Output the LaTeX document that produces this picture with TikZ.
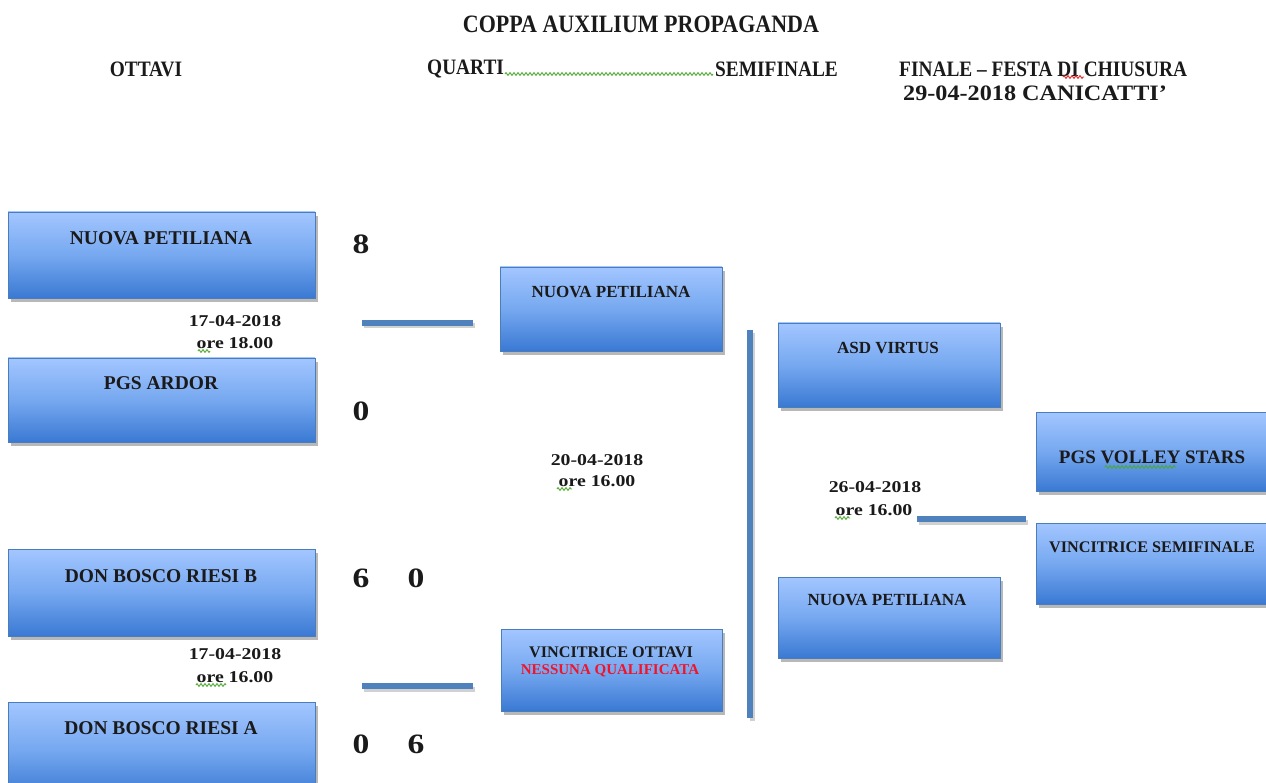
\documentclass[tikz,border=0pt]{standalone}
\usepackage{fontspec}
\setmainfont{Liberation Serif}
\newfontfamily\widefont[FakeStretch=1.2]{Liberation Serif}
\newfontfamily\medfont[FakeStretch=1.1]{Liberation Serif}
\newfontfamily\condfont[FakeStretch=0.88]{Liberation Serif}
\usetikzlibrary{shadows,decorations.pathmorphing}
\definecolor{boxtop}{HTML}{A3C6FF}
\definecolor{boxmid}{HTML}{76A8F0}
\definecolor{boxbot}{HTML}{3A79D3}
\definecolor{boxline}{HTML}{4A7EBB}
\definecolor{barblue}{HTML}{4F81BD}
\definecolor{spellgreen}{HTML}{4CA82E}
\definecolor{spellred}{HTML}{E02020}
\definecolor{txt}{HTML}{1A1A1A}
\definecolor{nored}{HTML}{F0142A}
\begin{document}
\begin{tikzpicture}[x=1pt,y=-1pt,
  teambox/.style={draw=boxline, line width=0.8pt, top color=boxtop, bottom color=boxbot, middle color=boxmid,
    anchor=north west, inner sep=0pt, outer sep=0pt,
    drop shadow={shadow xshift=3pt, shadow yshift=-4pt, fill=black, opacity=0.28}},
  team/.style={font=\fontsize{19.5}{22}\selectfont\bfseries, text=txt, inner sep=0pt},
  teamsm/.style={font=\fontsize{17}{20}\selectfont\bfseries, text=txt, inner sep=0pt},
  teamxs/.style={font=\fontsize{16.2}{19}\selectfont\bfseries, text=txt, inner sep=0pt},
  hdr/.style={font=\condfont\fontsize{22}{24}\selectfont\bfseries, text=txt, inner sep=0pt},
  datelbl/.style={font=\widefont\fontsize{16.5}{19}\selectfont\bfseries, text=txt, inner sep=0pt},
  scorelbl/.style={font=\widefont\fontsize{28}{30}\selectfont\bfseries, text=txt, inner sep=0pt},
  bar/.style={line width=5.5pt, draw=barblue},
  barshadow/.style={line width=5pt, draw=black, opacity=0.18},
  spell/.style={decorate, decoration={zigzag, segment length=4pt, amplitude=1.4pt}, line width=0.9pt}
]
\useasboundingbox (0,0) rectangle (1266,783);
\clip (0,0) rectangle (1266,783);

% headers
\node[hdr, font=\condfont\fontsize{25}{27}\selectfont\bfseries] (title) at (641,24) {COPPA AUXILIUM PROPAGANDA};
\node[hdr] (hott) at (146,69) {OTTAVI};
\node[hdr, anchor=west] (hqua) at (427,69) {QUARTI};
\node[hdr, anchor=west] (hsem) at (715,69) {SEMIFINALE};
\node[hdr, anchor=west] (hfin) at (899,69) {FINALE – FESTA DI CHIUSURA};
\node[hdr, anchor=west, font=\medfont\fontsize{22}{24}\selectfont\bfseries] (hdate) at (903,93) {29-04-2018 CANICATTI’};
\coordinate (sq1) at (505,74); \coordinate (sq2) at (713,74);
\draw[spell, spellgreen] (sq1) -- (sq2);
\coordinate (sr1) at (1063,77);
\coordinate (sr2) at (1084,77);
\draw[spell, spellred] (sr1) -- (sr2);

% round of 16 boxes
\node[teambox, minimum width=307pt, minimum height=86pt] (b1) at (8,212) {};
\node[teambox, minimum width=307pt, minimum height=84pt] (b2) at (8,358) {};
\node[teambox, minimum width=307pt, minimum height=87pt] (b3) at (8,549) {};
\node[teambox, minimum width=307pt, minimum height=95pt] (b4) at (8,702) {};
\node[team] (b1l) at (161,238) {NUOVA PETILIANA};
\node[team] (b2l) at (161,383) {PGS ARDOR};
\node[team] (b3l) at (161,576) {DON BOSCO RIESI B};
\node[team] (b4l) at (161,728) {DON BOSCO RIESI A};

% dates round of 16
\node[datelbl] (d1a) at (235,321) {17-04-2018};
\node[datelbl] (d1b) at (235,343) {ore 18.00};
\node[datelbl] (d2a) at (235,654) {17-04-2018};
\node[datelbl] (d2b) at (235,677) {ore 16.00};
\coordinate (g1a) at (198,351); \coordinate (g1b) at (210,351);
\draw[spell, spellgreen] (g1a) -- (g1b);
\coordinate (g2a) at (196,685); \coordinate (g2b) at (226,685);
\draw[spell, spellgreen] (g2a) -- (g2b);

% scores
\node[scorelbl] (s8) at (361,244) {8};
\node[scorelbl] (s0) at (361,411) {0};
\node[scorelbl] (s6a) at (361,578) {6};
\node[scorelbl] (s0a) at (416,578) {0};
\node[scorelbl] (s0b) at (361,744) {0};
\node[scorelbl] (s6b) at (416,744) {6};

% short bars
\coordinate (l1a) at (362,323); \coordinate (l1b) at (473,323);
\coordinate (l2a) at (362,686); \coordinate (l2b) at (473,686);
\draw[barshadow] ([shift={(2,3)}]l1a) -- ([shift={(2,3)}]l1b);
\draw[bar] (l1a) -- (l1b);
\draw[barshadow] ([shift={(2,3)}]l2a) -- ([shift={(2,3)}]l2b);
\draw[bar] (l2a) -- (l2b);

% quarter boxes
\node[teambox, minimum width=222pt, minimum height=84pt] (q1) at (500,267) {};
\node[teambox, minimum width=221pt, minimum height=82pt] (q2) at (501,629) {};
\node[teamsm] (q1l) at (611,292) {NUOVA PETILIANA};
\node[teamxs] (q2l) at (611,652) {VINCITRICE OTTAVI};
\node[teamsm, text=nored, font=\fontsize{15}{17}\selectfont\bfseries] (q2m) at (610,671) {NESSUNA QUALIFICATA};

\node[datelbl] (d3a) at (597,460) {20-04-2018};
\node[datelbl] (d3b) at (597,481) {ore 16.00};
\coordinate (g3a) at (557,489); \coordinate (g3b) at (572,489);
\draw[spell, spellgreen] (g3a) -- (g3b);

% vertical bar
\coordinate (vt) at (750,330); \coordinate (vb) at (750,718);
\draw[barshadow] ([shift={(2,3)}]vt) -- ([shift={(2,3)}]vb);
\draw[bar] (vt) -- (vb);

% semifinal boxes
\node[teambox, minimum width=222pt, minimum height=84pt] (sf1) at (778,323) {};
\node[teambox, minimum width=222pt, minimum height=81pt] (sf2) at (778,577) {};
\node[teamsm] (sf1l) at (888,348) {ASD VIRTUS};
\node[teamsm] (sf2l) at (887,600) {NUOVA PETILIANA};

\node[datelbl] (d4a) at (875,487) {26-04-2018};
\node[datelbl] (d4b) at (874,510) {ore 16.00};
\coordinate (g4a) at (835,518); \coordinate (g4b) at (850,518);
\draw[spell, spellgreen] (g4a) -- (g4b);

\coordinate (l3a) at (917,519); \coordinate (l3b) at (1026,519);
\draw[barshadow] ([shift={(2,3)}]l3a) -- ([shift={(2,3)}]l3b);
\draw[bar] (l3a) -- (l3b);

% final boxes
\node[teambox, minimum width=234pt, minimum height=79pt] (f1) at (1036,412) {};
\node[teambox, minimum width=234pt, minimum height=81pt] (f2) at (1036,523) {};
\node[team, font=\fontsize{19}{22}\selectfont\bfseries] (f1l) at (1152,457) {PGS VOLLEY STARS};
\node[teamxs] (f2l) at (1152,547) {VINCITRICE SEMIFINALE};
\coordinate (g5a) at (1105,467); \coordinate (g5b) at (1176,467);
\draw[spell, spellgreen] (g5a) -- (g5b);
\end{tikzpicture}
\end{document}
